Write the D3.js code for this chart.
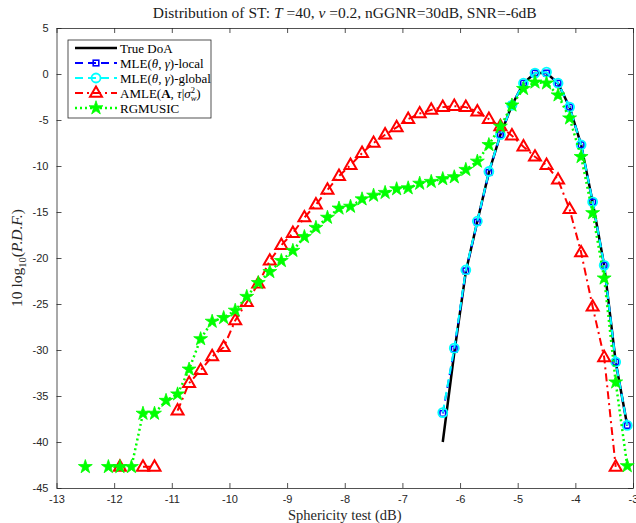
<!DOCTYPE html>
<html>
<head>
<meta charset="utf-8">
<script src="https://cdn.jsdelivr.net/npm/d3@7"></script>
<style>
  body { margin: 0; background: #fff; }
  text { font-family: "Liberation Serif", "DejaVu Serif", serif; }
  .tick text { font-family: "Liberation Sans", Arial, sans-serif; font-size: 11px; fill: #262626; }
</style>
</head>
<body>
<svg width="636" height="523"></svg>
<script>
// sphericity test bins (dB)
var stBins = [-12.5, -12.3, -12.1, -11.9, -11.7, -11.5, -11.3, -11.1, -10.9, -10.7,
  -10.5, -10.3, -10.1, -9.9, -9.7, -9.5, -9.3, -9.1, -8.9, -8.7,
  -8.5, -8.3, -8.1, -7.9, -7.7, -7.5, -7.3, -7.1, -6.9, -6.7,
  -6.5, -6.3, -6.1, -5.9, -5.7, -5.5, -5.3, -5.1, -4.9, -4.7,
  -4.5, -4.3, -4.1, -3.9, -3.7, -3.5, -3.3, -3.1];
// bins used by the MLE curves (-6.3 .. -3.1)
var mleBins = [-6.3, -6.1, -5.9, -5.7, -5.5, -5.3, -5.1, -4.9, -4.7,
  -4.5, -4.3, -4.1, -3.9, -3.7, -3.5, -3.3, -3.1];

var trueDoA   = [-40.0, -30.3, -21.5, -16.0, -10.7, -6.6, -3.4, -1.0, 0.1, 0.1, -1.0, -3.6, -7.7, -13.9, -20.8, -31.3, -38.2];
var mleLocal  = [-36.9, -29.9, -21.4, -16.1, -10.7, -6.6, -3.4, -1.0, 0.1, 0.1, -1.0, -3.6, -7.7, -13.9, -20.8, -31.3, -38.2];
var mleGlobal = [-36.8, -29.8, -21.3, -16.0, -10.6, -6.6, -3.4, -1.0, 0.1, 0.2, -1.0, -3.6, -7.7, -13.9, -20.8, -31.3, -38.2];

var amle = [null, null, null, -42.7, null, -42.7, -42.7, null, -36.6, -33.6,
  -32.2, -30.7, -29.7, -26.8, -24.8, -22.8, -20.3, -18.6, -17.3, -15.6,
  -14.2, -12.6, -11.1, -9.9, -8.6, -7.5, -6.6, -5.8, -4.9, -4.3,
  -3.9, -3.6, -3.5, -3.6, -4.1, -4.9, -5.7, -6.7, -7.9, -9.0,
  -9.9, -11.5, -14.7, -19.4, -25.3, -30.8, -42.7, null];

var rgmusic = [-42.7, null, -42.7, -42.7, -42.7, -36.9, -36.9, -35.5, -34.8, -32.1,
  -28.8, -26.9, -26.5, -25.7, -24.2, -22.7, -21.5, -20.3, -19.2, -17.7,
  -16.7, -15.6, -14.6, -14.4, -13.6, -13.2, -12.9, -12.5, -12.4, -11.9,
  -11.7, -11.4, -11.2, -10.4, -9.5, -7.7, -5.7, -3.4, -1.6, -0.9,
  -1.0, -2.3, -4.8, -9.0, -15.1, -22.2, -33.5, -42.6];

var xTicks = [-13, -12, -11, -10, -9, -8, -7, -6, -5, -4, -3];
var yTicks = [5, 0, -5, -10, -15, -20, -25, -30, -35, -40, -45];

(function draw() {
  var pL = 56.5, pR = 633, pT = 28, pB = 488;
  var svg = d3.select('svg');

  var x = d3.scaleLinear().domain([-13, -3]).range([pL, pR]);
  var y = d3.scaleLinear().domain([-45, 5]).range([pB, pT]);

  // axes, ticks pointing inwards on all four sides
  var fmt = function(d){ return String(d); };
  svg.append('g').attr('transform', 'translate(0,' + pB + ')')
    .call(d3.axisBottom(x).tickValues(xTicks).tickFormat(fmt).tickSizeInner(-5).tickSizeOuter(0).tickPadding(7));
  svg.append('g').attr('transform', 'translate(0,' + pT + ')')
    .call(d3.axisTop(x).tickValues(xTicks).tickFormat('').tickSizeInner(-5).tickSizeOuter(0));
  svg.append('g').attr('transform', 'translate(' + pL + ',0)')
    .call(d3.axisLeft(y).tickValues(yTicks).tickFormat(fmt).tickSizeInner(-5).tickSizeOuter(0).tickPadding(8));
  svg.append('g').attr('transform', 'translate(' + pR + ',0)')
    .call(d3.axisRight(y).tickValues(yTicks).tickFormat('').tickSizeInner(-5).tickSizeOuter(0));
  svg.selectAll('.domain, .tick line').attr('stroke', '#262626').attr('stroke-width', 0.8);

  function pairs(xs, ys){ return xs.map(function(v, i){ return [v, ys[i]]; }); }
  var line = d3.line().defined(function(d){ return d[1] != null; })
    .x(function(d){ return x(d[0]); }).y(function(d){ return y(d[1]); });

  var series = [
    {xs: mleBins, ys: trueDoA, color: '#000', width: 2.5, dash: null, marker: null},
    {xs: mleBins, ys: mleLocal, color: '#0000ff', width: 2, dash: '8,5', marker: 'square'},
    {xs: mleBins, ys: mleGlobal, color: '#00ffff', width: 2, dash: '8,5', marker: 'circle'},
    {xs: stBins, ys: amle, color: '#ff0000', width: 2, dash: '8,4,2,4', marker: 'triangle'},
    {xs: stBins, ys: rgmusic, color: '#00ff00', width: 2.5, dash: '2,3', marker: 'star'}
  ];

  var star = d3.symbol().type(d3.symbolStar).size(60)();
  function drawMarker(g, kind, color, cx, cy){
    if (kind === 'square') {
      g.append('rect').attr('x', cx - 2.8).attr('y', cy - 2.8).attr('width', 5.6).attr('height', 5.6)
        .attr('fill', 'none').attr('stroke', color).attr('stroke-width', 1.6);
    } else if (kind === 'circle') {
      g.append('circle').attr('cx', cx).attr('cy', cy).attr('r', 4.5)
        .attr('fill', 'none').attr('stroke', color).attr('stroke-width', 1.8);
    } else if (kind === 'triangle') {
      g.append('path').attr('d', 'M0,-6.6L6,3.8L-6,3.8Z').attr('transform', 'translate(' + cx + ',' + cy + ')')
        .attr('fill', 'none').attr('stroke', color).attr('stroke-width', 2);
    } else if (kind === 'star') {
      g.append('path').attr('d', star).attr('transform', 'translate(' + cx + ',' + cy + ')')
        .attr('fill', color).attr('stroke', color).attr('stroke-width', 0.8);
    }
  }

  var plot = svg.append('g');
  series.forEach(function(s){
    var pts = pairs(s.xs, s.ys);
    plot.append('path').datum(pts).attr('d', line)
      .attr('fill', 'none').attr('stroke', s.color).attr('stroke-width', s.width)
      .attr('stroke-dasharray', s.dash);
    if (s.marker) {
      pts.filter(function(d){ return d[1] != null; }).forEach(function(d){
        drawMarker(plot, s.marker, s.color, x(d[0]), y(d[1]));
      });
    }
  });

  // title and axis labels
  var title = svg.append('text').attr('x', (pL + pR) / 2).attr('y', 18)
    .attr('text-anchor', 'middle').attr('font-size', 15.5).attr('fill', '#1a1a1a');
  title.append('tspan').text('Distribution of ST: ');
  title.append('tspan').attr('font-style', 'italic').text('T');
  title.append('tspan').text(' =40, ');
  title.append('tspan').attr('font-style', 'italic').text('ν');
  title.append('tspan').text(' =0.2, nGGNR=30dB, SNR=-6dB');

  svg.append('text').attr('x', (pL + pR) / 2).attr('y', 520)
    .attr('text-anchor', 'middle').attr('font-size', 14.5).attr('fill', '#262626')
    .text('Sphericity test (dB)');

  var yl = svg.append('text').attr('transform', 'translate(22,' + ((pT + pB) / 2) + ') rotate(-90)')
    .attr('text-anchor', 'middle').attr('font-size', 15.5).attr('fill', '#262626');
  yl.append('tspan').text('10 log');
  yl.append('tspan').attr('font-size', 10.5).attr('dy', 3.5).text('10');
  yl.append('tspan').attr('dy', -3.5).text('(');
  yl.append('tspan').attr('font-style', 'italic').text('P.D.F.');
  yl.append('tspan').text(')');

  // legend
  var lg = svg.append('g');
  lg.append('rect').attr('x', 68).attr('y', 40).attr('width', 143).attr('height', 78)
    .attr('fill', '#fff').attr('stroke', '#262626').attr('stroke-width', 0.8);
  var rowY = [48, 63, 78, 93, 108];
  series.forEach(function(s, i){
    var ly = rowY[i];
    lg.append('line').attr('x1', 75).attr('x2', 117).attr('y1', ly).attr('y2', ly)
      .attr('stroke', s.color).attr('stroke-width', s.width).attr('stroke-dasharray', s.dash);
    if (s.marker) drawMarker(lg, s.marker, s.color, 96, ly);
  });
  function legText(i){
    return lg.append('text').attr('x', 120).attr('y', rowY[i] + 4.5).attr('font-size', 13).attr('fill', '#000');
  }
  legText(0).text('True DoA');
  [['local', 1], ['global', 2]].forEach(function(p){
    var t = legText(p[1]);
    t.append('tspan').text('MLE(');
    t.append('tspan').attr('font-style', 'italic').text('θ');
    t.append('tspan').text(', ');
    t.append('tspan').attr('font-style', 'italic').text('γ');
    t.append('tspan').text(')-' + p[0]);
  });
  var t3 = legText(3);
  t3.append('tspan').text('AMLE(');
  t3.append('tspan').attr('font-weight', 'bold').text('A');
  t3.append('tspan').text(', ');
  t3.append('tspan').attr('font-style', 'italic').text('τ');
  t3.append('tspan').text('|');
  t3.append('tspan').attr('font-style', 'italic').text('σ');
  t3.append('tspan').attr('font-size', 8.5).attr('dy', -5).text('2');
  t3.append('tspan').attr('font-size', 8.5).attr('font-style', 'italic').attr('dx', -4.3).attr('dy', 8.5).text('w');
  t3.append('tspan').attr('dy', -3.5).text(')');
  legText(4).text('RGMUSIC');
})();
</script>
</body>
</html>
